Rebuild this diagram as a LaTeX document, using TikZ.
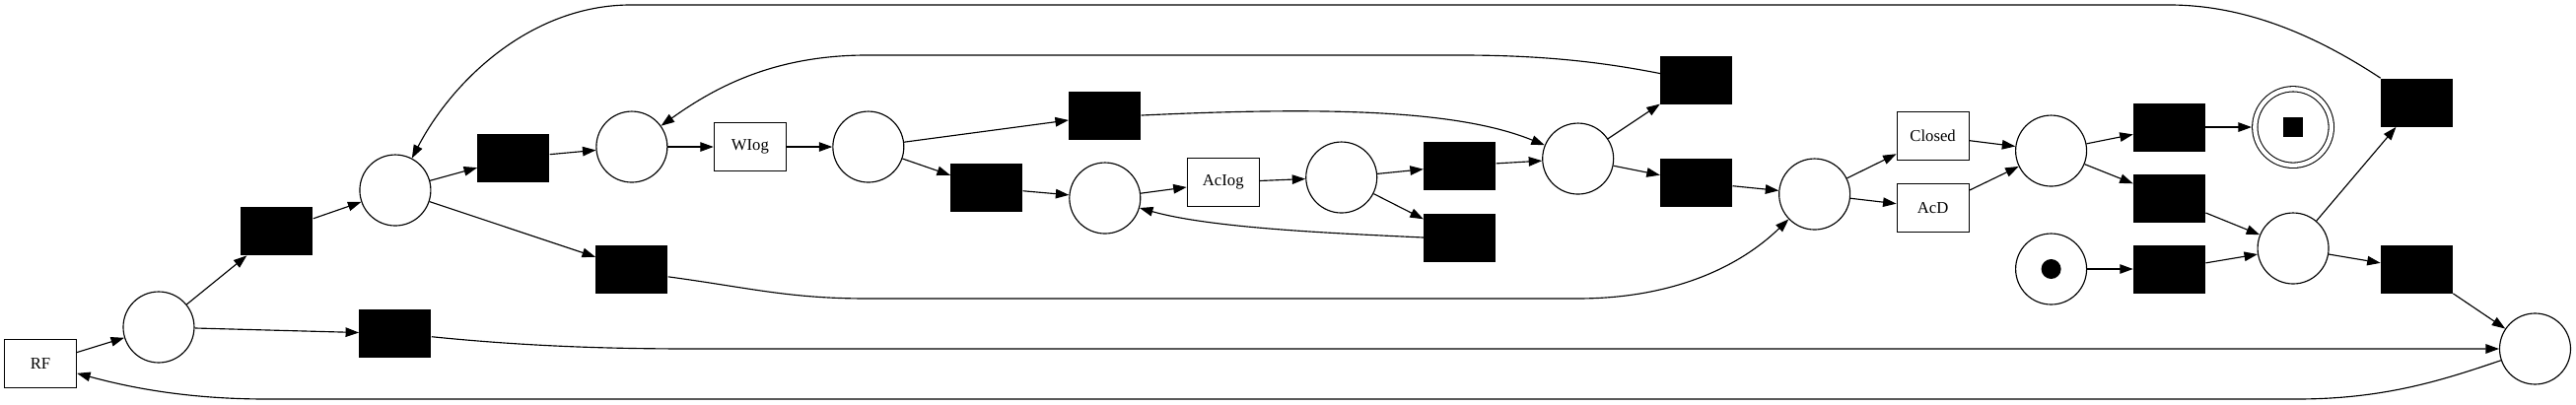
\documentclass[tikz,border=0pt]{standalone}
\usepackage{fontspec}
\setmainfont{Liberation Serif}
\usetikzlibrary{arrows.meta, positioning}

\tikzset{
    place/.style={circle, draw, line width=0.65pt, minimum size=1.44cm, inner sep=0pt},
    trans/.style={rectangle, fill=black, minimum width=1.46cm, minimum height=0.98cm, inner sep=0pt},
    activity/.style={rectangle, draw, line width=0.65pt, minimum width=1.46cm, minimum height=0.98cm, inner sep=0pt,
        font=\fontsize{9.5pt}{11pt}\selectfont},
    final/.style={circle, draw, double, line width=0.6pt, double distance=0.086cm, minimum size=1.55cm,
        inner sep=0pt, outer sep=1.9pt},
    arc/.style={line width=0.65pt, -{Triangle[length=0.27cm, width=0.19cm]}}
}

\begin{document}
\begin{tikzpicture}[x=0.02cm, y=-0.02cm, node distance=2.4cm, on grid]
        \useasboundingbox (0,0) rectangle (2613,411);

        % Draw the places and transitions
        \node[activity]                                    (rf)     at (41,369) {RF};
        \node[place, above right=0.74cm and 2.4cm of rf]   (p1)     {};
        \node[trans, above right=1.95cm and 2.4cm of p1]   (t1)     {};
        \node[trans, below right=0.13cm and 4.8cm of p1]   (t4)     {};
        \node[place, above right=0.83cm and 2.4cm of t1]   (p2)     {};
        \node[trans, above right=0.66cm and 2.4cm of p2]   (t2)     {};
        \node[trans, below right=1.6cm and 4.8cm of p2]    (t3)     {};
        \node[place, above right=0.22cm and 2.4cm of t2]   (p3)     {};
        \node[activity, right=of p3]                       (wlog)   {WIog};
        \node[place, right=of wlog]                        (p4)     {};
        \node[trans, above right=0.64cm and 4.8cm of p4]   (t5)     {};
        \node[trans, below right=0.83cm and 2.4cm of p4]   (t6)     {};
        \node[place, below right=0.21cm and 2.4cm of t6]   (p5)     {};
        \node[activity, above right=0.32cm and 2.4cm of p5] (aclog) {AcIog};
        \node[place, above right=0.1cm and 2.4cm of aclog] (p6)     {};
        \node[trans, above right=0.24cm and 2.4cm of p6]   (t7)     {};
        \node[trans, below right=1.22cm and 2.4cm of p6]   (t8)     {};
        \node[place, above right=0.14cm and 2.4cm of t7]   (p7)     {};
        \node[trans, above right=1.6cm and 2.4cm of p7]    (t9)     {};
        \node[trans, below right=0.48cm and 2.4cm of p7]   (t10)    {};
        \node[place, below right=0.24cm and 2.4cm of t10]  (p8)     {};
        \node[activity, above right=1.18cm and 2.4cm of p8] (closed) {Closed};
        \node[activity, below right=0.28cm and 2.4cm of p8] (acd)   {AcD};
        \node[place, below right=0.3cm and 2.4cm of closed] (p9)    {};
        \node[trans, above right=0.48cm and 2.4cm of p9]   (t11)    {};
        \node[trans, below right=0.96cm and 2.4cm of p9]   (t12)    {};
        \node[place, below=of p9]                          (start)  {};
        \node[trans, right=of start]                       (t13)    {};
        \node[final, right=2.51cm of t11]                  (end)    {};
        \node[place, above right=0.42cm and 2.51cm of t13] (p10)    {};
        \node[trans, above right=2.96cm and 2.51cm of p10] (t14)    {};
        \node[trans, below right=0.42cm and 2.51cm of p10] (t15)    {};
        \node[place, below right=1.62cm and 2.4cm of t15]  (p11)    {};

        % Tokens
        \node[circle, fill, minimum size=0.4cm, inner sep=0pt] (token)   at (start) {};
        \node[rectangle, fill, minimum size=0.4cm, inner sep=0pt] (endmark) at (end) {};

        % Connect the nodes with arcs
        \draw[arc]
            (rf) edge (p1)
            (p1) edge (t1)
            (p1) edge (t4)
            (t1) edge (p2)
            (p2) edge (t2)
            (p2) edge (t3)
            (t2) edge (p3)
            (p3) edge (wlog)
            (wlog) edge (p4)
            (p4) edge (t5)
            (p4) edge (t6)
            (t6) edge (p5)
            (p5) edge (aclog)
            (aclog) edge (p6)
            (p6) edge (t7)
            (p6) edge (t8)
            (t7) edge (p7)
            (p7) edge (t9)
            (p7) edge (t10)
            (t10) edge (p8)
            (p8) edge (closed)
            (p8) edge (acd)
            (closed) edge (p9)
            (acd) edge (p9)
            (p9) edge (t11)
            (p9) edge (t12)
            (t11) edge (end)
            (t12) edge (p10)
            (start) edge (t13)
            (t13) edge (p10)
            (p10) edge (t14)
            (p10) edge (t15)
            (t15) edge (p11);

        % Long arcs around the net
        \draw[arc] (t14.north west) .. controls (2340,30) and (2270,5) .. (2200,5)
            -- (640,5) .. controls (540,5) and (460,80) .. (p2);
        \draw[arc] (t9.170) .. controls (1620,62) and (1560,56) .. (1480,56)
            -- (880,56) .. controls (790,56) and (730,85) .. (p3);
        \draw[arc] (t5.east) .. controls (1350,108) and (1480,112) .. (p7);
        \draw[arc] (t8.west) .. controls (1360,237) and (1230,232) .. (p5);
        \draw[arc] (t3.-12) .. controls (760,292) and (800,303) .. (880,303)
            -- (1600,303) .. controls (1690,303) and (1760,275) .. (p8);
        \draw[arc] (t4.-5) .. controls (520,350) and (600,354) .. (700,354) -- (p11);
        \draw[arc] (p11) .. controls (2480,385) and (2420,405) .. (2330,405)
            -- (270,405) .. controls (180,405) and (120,390) .. (rf);
\end{tikzpicture}
\end{document}
